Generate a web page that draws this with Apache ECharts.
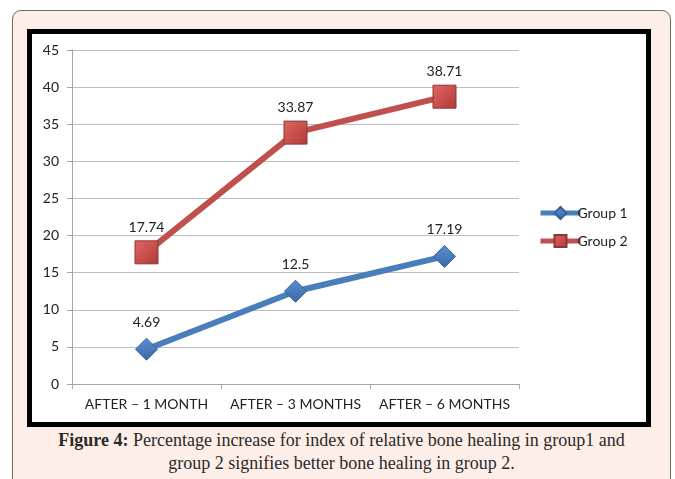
<!DOCTYPE html>
<html>
<head>
<meta charset="utf-8">
<script src="https://cdn.jsdelivr.net/npm/echarts@6/dist/echarts.min.js"></script>
<style>
  html, body { margin: 0; padding: 0; width: 675px; height: 479px; overflow: hidden; background: #fff; }
  #panel { position: absolute; left: 12px; top: 10px; width: 659px; height: 480px;
           border: 1px solid #6b6b6b; border-radius: 9px; background: #fdeee7; box-sizing: border-box; }
  #frame { position: absolute; left: 27px; top: 29px; width: 624px; height: 398px;
           border: 5px solid #000; background: #fff; box-sizing: border-box; }
  #main { position: absolute; left: 0; top: 0; width: 675px; height: 479px; }
  #caption { position: absolute; left: 12px; width: 659px; top: 429px; text-align: center;
             font-family: "Liberation Serif", serif; font-size: 18px; line-height: 23px; color: #2a2a2a; }
</style>
</head>
<body>
<div id="panel"></div>
<div id="frame"></div>
<div id="caption"><b>Figure 4:</b> Percentage increase for index of relative bone healing in group1 and<br>group 2 signifies better bone healing in group 2.</div>
<div id="main"></div>
<script>
// data
var categories = ['AFTER \u2013 1 MONTH', 'AFTER \u2013 3 MONTHS', 'AFTER \u2013 6 MONTHS'];
var group1 = [4.69, 12.5, 17.19];
var group2 = [17.74, 33.87, 38.71];
var seriesNames = ['Group 1', 'Group 2'];

var chartFont = 'Lato, "Open Sans", sans-serif';
var myChart = echarts.init(document.getElementById('main'));

var option = {
    backgroundColor: 'transparent',
    animation: false,
    textStyle: { fontFamily: chartFont },
    grid: { left: 72, right: 156, top: 50, bottom: 95 },
    legend: {
        data: seriesNames,
        orient: 'vertical',
        left: 533,
        top: 201,
        itemWidth: 40,
        itemHeight: 15,
        itemGap: 14,
        lineStyle: { width: 5 },
        textStyle: { fontSize: 14, color: '#222', fontFamily: chartFont, padding: [0, 0, 0, -8] }
    },
    xAxis: {
        type: 'category',
        data: categories,
        boundaryGap: true,
        axisLine: { lineStyle: { color: '#a6a6a6', width: 1 } },
        axisTick: { show: true, alignWithLabel: false, length: 5, lineStyle: { color: '#a6a6a6' } },
        axisLabel: { interval: 0, color: '#222', fontSize: 14, margin: 13, fontFamily: chartFont }
    },
    yAxis: {
        type: 'value',
        min: 0,
        max: 45,
        interval: 5,
        axisLine: { show: true, lineStyle: { color: '#a6a6a6', width: 1 } },
        axisTick: { show: true, length: 5, lineStyle: { color: '#a6a6a6' } },
        axisLabel: { color: '#222', fontSize: 14, margin: 13, fontFamily: chartFont },
        splitLine: { lineStyle: { color: '#bdbdbd', width: 1 } }
    },
    series: [
        {
            name: seriesNames[0],
            type: 'line',
            data: group1,
            symbol: 'diamond',
            symbolSize: 22,
            lineStyle: { color: '#4a7ebb', width: 6 },
            itemStyle: {
                color: new echarts.graphic.LinearGradient(0, 0, 0, 1, [
                    { offset: 0, color: '#5b8fd0' },
                    { offset: 1, color: '#3a69a6' }
                ]),
                borderColor: '#35609a',
                borderWidth: 1
            },
            label: { show: true, position: 'top', distance: 8, color: '#222', fontSize: 14, fontFamily: chartFont },
            z: 3
        },
        {
            name: seriesNames[1],
            type: 'line',
            data: group2,
            symbol: 'rect',
            symbolSize: 23,
            lineStyle: { color: '#c0504d', width: 6 },
            itemStyle: {
                color: new echarts.graphic.LinearGradient(0, 0, 1, 1, [
                    { offset: 0, color: '#e06662' },
                    { offset: 1, color: '#b03a37' }
                ]),
                borderColor: '#8c3836',
                borderWidth: 1
            },
            label: { show: true, position: 'top', distance: 6, color: '#222', fontSize: 14, fontFamily: chartFont },
            z: 3
        }
    ]
};

myChart.setOption(option);
</script>
</body>
</html>
